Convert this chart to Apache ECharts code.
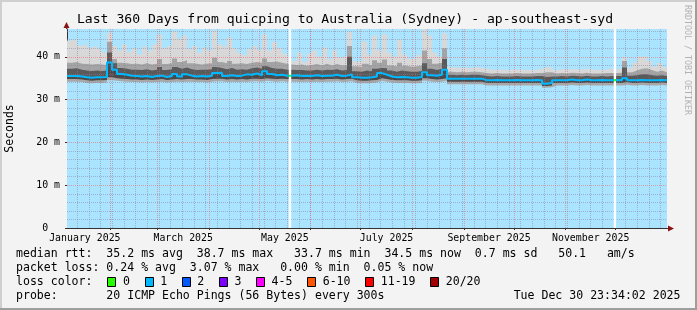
<!DOCTYPE html>
<html>
<head>
<meta charset="utf-8">
<title>SmokePing</title>
<script src="https://cdn.jsdelivr.net/npm/echarts@6.0.0/dist/echarts.min.js"></script>
<style>
html,body{margin:0;padding:0;background:#f3f3f3;overflow:hidden;}
#chart{width:697px;height:310px;}
</style>
</head>
<body>
<div id="chart"></div>
<script>
// ---------------- data ----------------
const sampleStart = '2025-01-05T19:00:00';
const sampleStepDays = 3;
const rangeDays = 360;

// smoke bottom (fastest pings), ms
const smokeLow = [
34.2,34.2,34.1,33.9,33.8,33.9,33.9,34.0,34.5,34.4,
34.3,34.2,34.1,34.1,34.0,34.1,34.0,34.1,34.2,34.0,
34.1,34.2,34.1,34.2,34.2,34.1,34.1,34.0,34.2,34.3,
34.3,34.1,34.2,34.1,34.2,34.1,34.3,34.3,34.2,34.4,
34.3,34.2,34.3,34.2,34.2,34.2,34.1,34.2,34.1,34.2,
34.1,34.2,34.2,34.3,34.1,34.2,34.3,33.9,33.8,33.8,
33.9,34.0,34.4,34.2,34.0,33.9,33.9,33.9,33.8,33.8,
33.9,34.4,34.2,34.1,34.2,34.4,33.6,33.6,33.6,33.6,
33.6,33.6,33.6,33.3,33.3,33.3,33.3,33.3,33.3,33.3,
33.3,33.3,33.3,33.3,33.3,32.8,32.9,33.3,33.3,33.3,
33.4,33.3,33.3,33.4,33.3,33.3,33.3,33.3,33.3,33.3,
33.3,33.5,33.3,33.3,33.4,33.3,33.3,33.3,33.4,33.3
];
// bottom of the dark smoke below the median
const smokeLowDark = [
34.8,34.8,34.7,34.5,34.4,34.5,34.5,34.6,35.2,35.0,
34.9,34.8,34.7,34.7,34.6,34.7,34.6,34.7,34.8,34.6,
34.7,34.8,34.7,34.8,34.8,34.7,34.7,34.6,34.8,34.9,
34.9,34.7,34.8,34.7,34.8,34.7,34.9,34.9,34.8,35.0,
34.9,34.8,34.9,34.8,34.8,34.8,34.7,34.8,34.7,34.8,
34.7,34.8,34.8,34.9,34.7,34.8,34.9,34.5,34.4,34.4,
34.5,34.6,35.0,34.8,34.6,34.5,34.5,34.5,34.4,34.4,
34.5,35.0,34.8,34.7,34.8,35.0,34.2,34.2,34.2,34.2,
34.2,34.2,34.2,33.9,33.9,33.9,33.9,33.9,33.9,33.9,
33.9,33.9,33.9,33.9,33.9,33.2,33.3,33.9,33.9,33.9,
34.0,33.9,33.9,34.0,33.9,33.9,33.9,33.9,33.9,33.9,
33.9,34.1,33.9,33.9,34.0,33.9,33.9,33.9,34.0,33.9
];
// median rtt, ms
const medianRtt = [
35.5,35.5,35.4,35.2,35.1,35.2,35.2,35.3,38.7,37.0,
36.0,35.8,35.6,35.5,35.4,35.5,35.3,35.5,35.6,35.3,
35.5,36.0,35.4,35.9,35.6,35.4,35.5,35.4,35.6,36.2,
36.3,35.5,35.7,35.5,35.6,35.9,35.8,36.1,35.7,36.6,
36.0,35.7,35.8,35.6,35.6,35.7,35.5,35.6,35.5,35.7,
35.5,35.6,35.6,35.8,35.5,35.6,35.9,35.2,35.1,35.1,
35.2,35.4,36.2,35.8,35.4,35.2,35.3,35.2,35.1,35.1,
35.3,36.4,35.7,35.6,35.8,37.0,34.9,34.9,34.9,34.9,
34.9,34.9,34.9,34.5,34.5,34.6,34.5,34.5,34.5,34.6,
34.5,34.5,34.5,34.6,34.5,33.7,33.9,34.5,34.5,34.5,
34.7,34.5,34.5,34.7,34.5,34.5,34.6,34.5,34.5,34.6,
34.5,35.0,34.5,34.5,34.6,34.5,34.5,34.5,34.6,34.5
];
// top of the dark smoke above the median
const smokeHighDark = [
37.2,37.3,37.0,36.8,36.7,36.8,36.7,36.8,41.0,38.5,
37.4,37.2,37.0,37.0,36.9,37.1,36.8,37.0,37.6,36.9,
37.1,37.6,37.2,37.5,37.1,36.9,37.0,37.0,37.1,37.6,
37.4,37.1,37.4,37.0,37.1,37.0,37.3,37.5,37.2,37.8,
37.4,37.2,37.2,37.0,37.0,36.9,36.9,36.8,36.8,37.0,
36.8,37.0,36.9,37.1,36.8,36.9,40.0,36.6,36.5,36.8,
36.6,37.2,37.4,37.3,36.8,36.5,36.8,36.6,36.5,36.5,
36.7,38.5,37.2,36.9,37.2,39.5,35.8,35.7,35.8,35.7,
35.8,35.8,35.7,35.5,35.4,35.5,35.4,35.4,35.4,35.5,
35.4,35.4,35.4,35.5,35.5,35.3,35.4,35.4,35.5,35.4,
35.6,35.5,35.4,35.6,35.4,35.4,35.5,35.4,35.5,35.5,
35.5,37.5,35.6,35.7,35.9,35.9,35.7,35.6,35.7,35.5
];
// top of the medium grey smoke
const smokeHighMid = [
38.6,38.8,38.4,38.3,38.2,38.3,38.2,38.1,43.5,39.5,
38.6,38.5,38.3,38.4,38.2,38.5,38.2,38.4,39.5,38.3,
38.5,39.6,38.8,39.2,38.5,38.4,38.2,38.4,38.5,39.8,
38.8,38.5,39.0,38.4,38.5,38.3,38.6,38.8,38.6,39.6,
38.8,38.9,38.6,38.4,38.2,38.1,38.2,37.9,38.1,38.3,
38.0,38.4,38.0,38.3,38.0,38.1,42.5,37.8,37.6,38.4,
38.0,39.2,38.6,39.4,38.0,37.8,38.6,37.9,37.7,37.8,
38.0,41.5,39.5,38.4,38.6,42.0,36.5,36.4,36.5,36.4,
36.5,36.5,36.4,36.2,36.1,36.2,36.1,36.1,36.1,36.2,
36.1,36.1,36.1,36.2,36.2,36.4,36.4,36.1,36.2,36.1,
36.3,36.2,36.1,36.3,36.1,36.1,36.1,36.2,36.2,36.2,
36.3,39.0,36.4,36.8,37.2,37.3,36.9,36.5,36.8,36.4
];
// smoke top (slowest pings), ms
const smokeHigh = [
43.8,44.2,42.6,43.0,42.2,42.5,41.8,41.0,45.6,42.5,
41.5,42.8,41.2,42.0,40.6,42.4,41.5,42.8,45.2,42.0,
42.5,46.0,44.2,45.0,41.8,42.6,41.0,42.2,41.5,46.2,
43.0,42.4,44.5,42.0,41.0,40.4,41.8,42.5,41.6,45.2,
41.5,43.5,42.0,40.8,40.0,39.0,41.0,38.8,40.8,41.5,
40.0,42.2,39.5,41.5,39.8,40.2,45.8,39.0,38.6,43.5,
40.5,45.0,41.5,45.3,41.0,40.0,44.0,40.5,39.5,39.8,
40.5,46.5,45.0,41.0,40.0,45.5,37.6,37.4,37.5,37.3,
37.4,37.6,37.4,37.2,37.0,37.1,37.0,36.9,37.0,37.1,
37.0,37.0,36.9,37.0,37.2,37.5,37.6,37.0,37.1,37.0,
37.2,37.1,37.0,37.3,37.0,37.0,36.9,37.1,37.3,37.0,
37.3,39.8,37.4,38.6,40.0,40.1,39.0,37.8,38.6,37.6
];

// periods without data (white) where the median had 0 loss
const gaps = [
  ['2025-05-18T20:00:00', '2025-05-20T08:00:00'],
  ['2025-11-29T20:00:00', '2025-12-01T06:00:00']
];
const monthStarts = ['2025-02-01','2025-03-01','2025-04-01','2025-05-01','2025-06-01','2025-07-01',
  '2025-08-01','2025-09-01','2025-10-01','2025-11-01','2025-12-01'];
const firstWeekLine = '2025-01-12';
const xLabelDates = ['2025-01-16T12:00:00','2025-03-16T12:00:00','2025-05-16T12:00:00',
  '2025-07-16T12:00:00','2025-09-16T00:00:00','2025-11-16T00:00:00'];
const xLabelTexts = ['January 2025','March 2025','May 2025','July 2025','September 2025','November 2025'];
const yLabelValues = [0, 10, 20, 30, 40];
const yMax = 46.5;

const titleText = 'Last 360 Days from quicping to Australia (Sydney) - ap-southeast-syd';
const yAxisTitle = 'Seconds';
const sideText = 'RRDTOOL / TOBI OETIKER';
const legendRows = [
  'median rtt:  35.2 ms avg  38.7 ms max   33.7 ms min  34.5 ms now  0.7 ms sd   50.1   am/s',
  'packet loss: 0.24 % avg  3.07 % max   0.00 % min  0.05 % now',
  'loss color:',
  'probe:       20 ICMP Echo Pings (56 Bytes) every 300s'
];
const lossLabels = ['0','1','2','3','4-5','6-10','11-19','20/20'];
const lossColors = ['#26ff00','#00b8ff','#0059ff','#7e00ff','#ff00ff','#ff5500','#ff0000','#a10000'];
const stampText = 'Tue Dec 30 23:34:02 2025';

// ---------------- build ----------------
const DAY = 86400000;
function ts(s){ return new Date(s.length <= 10 ? s + 'T00:00:00' : s).getTime(); }
const t0 = ts(sampleStart);
const tEnd = t0 + rangeDays * DAY;
const dates = medianRtt.map((_, i) => t0 + i * sampleStepDays * DAY);

function pairs(arr){
  const d = arr.map((v, i) => [dates[i], v]);
  d.push([tEnd, arr[arr.length - 1]]);
  return d;
}

const mono = "'DejaVu Sans Mono', monospace";
const plotBg = '#aae4fe';
const monthTs = monthStarts.map(ts);
const labelTs = xLabelDates.map(ts);
function labelFor(v){
  for (let i = 0; i < labelTs.length; i++) if (Math.abs(labelTs[i] - v) < 60000) return xLabelTexts[i];
  return '';
}

const weekTs = [];
for (let t = ts(firstWeekLine); t < tEnd; t += 7 * DAY) weekTs.push(t);
const yMinor = [];
for (let v = 2; v < yMax; v += 2) if (v % 10 !== 0) yMinor.push(v);
const yMajor = yLabelValues.filter(v => v > 0);

const minorStyle = {color: 'rgba(135,125,150,0.5)', width: 1, type: [1, 1]};
const majorStyle = {color: 'rgba(255,70,70,0.45)', width: 1, type: [1, 1]};

// painter's order: each layer fills from 0 up to its level, later layers cover earlier ones
const layers = [
  {name: 'smokeHigh', data: smokeHigh, color: '#d8d8d8'},
  {name: 'smokeHighMid', data: smokeHighMid, color: '#a4a4a4'},
  {name: 'smokeHighDark', data: smokeHighDark, color: '#5a5a5a'},
  {name: 'smokeMedian', data: medianRtt, color: '#4a4a4a'},
  {name: 'smokeLowDark', data: smokeLowDark, color: '#a8a8a8'},
  {name: 'smokeLow', data: smokeLow, color: plotBg}
];

const series = [];
layers.forEach(l => series.push({
  name: l.name, type: 'line', step: 'end', data: pairs(l.data),
  showSymbol: false, silent: true, lineStyle: {width: 0, opacity: 0},
  areaStyle: {color: l.color, opacity: 1, origin: 'start'}, z: 2
}));
// grid lines on top of the smoke
series.push({
  name: 'grid', type: 'line', data: [[t0, null]], showSymbol: false, silent: true, z: 3,
  markLine: {
    silent: true, symbol: 'none', label: {show: false}, animation: false, z: 3,
    data: [].concat(
      weekTs.map(t => ({xAxis: t, lineStyle: minorStyle})),
      yMinor.map(v => ({yAxis: v, lineStyle: minorStyle})),
      monthTs.map(t => ({xAxis: t, lineStyle: majorStyle})),
      yMajor.map(v => ({yAxis: v, lineStyle: majorStyle}))
    )
  }
});
series.push({
  name: 'gaps', type: 'line', data: [[t0, null]], showSymbol: false, silent: true, z: 4,
  markArea: {
    silent: true, z: 4, itemStyle: {color: '#ffffff', opacity: 1}, label: {show: false},
    data: gaps.map(g => [{xAxis: ts(g[0])}, {xAxis: ts(g[1])}])
  }
});
const medianIndex = series.length;
series.push({
  name: 'median', type: 'line', step: 'end', data: pairs(medianRtt), showSymbol: false,
  silent: true, lineStyle: {width: 2}, z: 6
});

// ---------------- graphics (texts / legend / frame) ----------------
const charW = 6.96;
const legendX = 16;
const rowY = [254, 268.2, 282.3, 296.4];
function txt(x, y, text, size, extra){
  const align = (extra && extra.align) || 'left';
  const el = {
    type: 'text', x: x, y: y, silent: true, z: 100,
    style: {text: text, font: size + 'px ' + mono, fill: (extra && extra.fill) || '#000',
      textAlign: align, align: align, textVerticalAlign: 'middle', verticalAlign: 'middle'}
  };
  if (extra && extra.rotation) el.rotation = extra.rotation;
  return el;
}
const graphics = [
  {type: 'rect', shape: {x: 0, y: 0, width: 697, height: 2}, style: {fill: '#cfcfcf'}, silent: true},
  {type: 'rect', shape: {x: 0, y: 0, width: 2, height: 310}, style: {fill: '#cfcfcf'}, silent: true},
  {type: 'rect', shape: {x: 0, y: 308, width: 697, height: 2}, style: {fill: '#9e9e9e'}, silent: true},
  {type: 'rect', shape: {x: 695, y: 0, width: 2, height: 310}, style: {fill: '#9e9e9e'}, silent: true},
  txt(345, 19.5, titleText, 13.1, {align: 'center'}),
  txt(10.5, 128.5, yAxisTitle, 11.5, {align: 'center', rotation: Math.PI / 2}),
  txt(687.5, 60, sideText, 8.3, {align: 'center', rotation: -Math.PI / 2, fill: '#b2b2b2'}),
  txt(680.5, rowY[3], stampText, 11.56, {align: 'right'})
];
legendRows.forEach((r, i) => graphics.push(txt(legendX, rowY[i], r, 11.56)));
let bx = legendX + 13 * charW + 1;
lossLabels.forEach((lab, i) => {
  graphics.push({type: 'rect', silent: true, z: 100,
    shape: {x: Math.round(bx) + 0.5, y: 277.5, width: 8, height: 9},
    style: {fill: lossColors[i], stroke: '#000', lineWidth: 1}});
  graphics.push(txt(bx + 15.5, rowY[2], lab, 11.56));
  bx += 30.2 + lab.length * charW;
});
// axis arrows
graphics.push({type: 'line', silent: true, z: 50, shape: {x1: 667, y1: 228.5, x2: 670, y2: 228.5}, style: {stroke: '#333', lineWidth: 1}});
graphics.push({type: 'polygon', silent: true, z: 50, shape: {points: [[668, 225.5], [674, 228.5], [668, 231.5]]}, style: {fill: '#8a1414'}});
graphics.push({type: 'line', silent: true, z: 50, shape: {x1: 66.5, y1: 29, x2: 66.5, y2: 26}, style: {stroke: '#333', lineWidth: 1}});
graphics.push({type: 'polygon', silent: true, z: 50, shape: {points: [[63.5, 28], [66.5, 22], [69.5, 28]]}, style: {fill: '#8a1414'}});

const option = {
  animation: false,
  backgroundColor: '#f3f3f3',
  grid: {left: 67, top: 29, width: 600, height: 199, show: true, backgroundColor: plotBg,
    borderWidth: 0, containLabel: false, outerBoundsMode: 'none'},
  xAxis: {
    type: 'value', min: t0, max: tEnd, scale: true,
    splitLine: {show: false}, minorTick: {show: false}, minorSplitLine: {show: false},
    axisLine: {show: true, onZero: false, lineStyle: {color: '#333', width: 1}},
    axisTick: {show: true, customValues: monthTs, length: 2, lineStyle: {color: '#333'}},
    axisLabel: {customValues: labelTs, formatter: v => labelFor(v), color: '#000',
      fontFamily: mono, fontSize: 9.9, margin: 5, hideOverlap: false}
  },
  yAxis: {
    type: 'value', min: 0, max: yMax,
    splitLine: {show: false},
    axisLine: {show: true, onZero: false, lineStyle: {color: '#333', width: 1}},
    axisTick: {show: true, customValues: yLabelValues, length: 2, lineStyle: {color: '#333'}},
    axisLabel: {customValues: yLabelValues, formatter: v => (v === 0 ? '0  ' : v + ' m'),
      color: '#000', fontFamily: mono, fontSize: 9.9, margin: 7}
  },
  visualMap: [{
    type: 'piecewise', show: false, seriesIndex: medianIndex, dimension: 0,
    pieces: gaps.map(g => ({gte: ts(g[0]), lte: ts(g[1]), color: '#26ff00'})),
    outOfRange: {color: '#00b8ff'}
  }],
  series: series,
  graphic: graphics
};

const chart = echarts.init(document.getElementById('chart'), null, {renderer: 'canvas'});
chart.setOption(option);
</script>
</body>
</html>
